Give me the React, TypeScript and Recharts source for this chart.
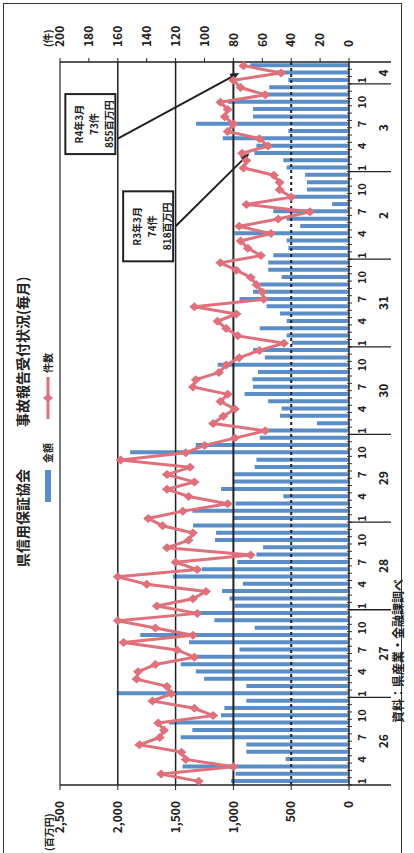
// Scanned report chart: monthly accident reports (amount bars + count line).
// The original page is printed sideways, so the chart is laid out landscape
// and the whole block is turned -90deg to fit the portrait page.
import * as React from "react";
import {
  ComposedChart,
  Bar,
  Line,
  XAxis,
  YAxis,
  ReferenceLine,
  ReferenceDot,
} from "recharts";

const FONT = "'Noto Sans CJK JP', 'Noto Sans', sans-serif";
const BAR_COLOR = "#5b8ec6";
const LINE_COLOR = "#e0707c";

// H26 .. H31, R2, R3, R4 (Jan-Mar)
const yearLabels = ["26", "27", "28", "29", "30", "31", "2", "3", "4"];
const monthsInYear = [12, 12, 12, 12, 12, 12, 12, 12, 3];
const monthTickLabels = [1, 4, 7, 10];

// 金額 (百万円)
const amounts = [
  1020, 982, 1440, 548, 888, 888, 1456, 1355, 1558, 1107, 1078, 888,
  2010, 888, 1253, 1325, 1456, 1355, 947, 1384, 1806, 816, 1165, 1340,
  990, 1034, 1098, 918, 1523, 1273, 967, 801, 743, 1159, 1150, 1349,
  1005, 1355, 982, 568, 1107, 1005, 1005, 816, 801, 1893, 1325, 772,
  714, 277, 597, 583, 699, 903, 830, 836, 787, 1136, 728, 830,
  495, 539, 772, 539, 597, 713, 947, 830, 772, 583, 699, 699,
  655, 524, 539, 990, 422, 539, 655, 146, 480, 364, 364, 379,
  539, 568, 818, 801, 1092, 524, 1323, 830, 830, 1049, 757, 690,
  525, 630, 855,
];

// 件数
const counts = [
  104, 130, 80, 113, 116, 145, 131, 128, 132, 94, 107, 136,
  123, 126, 147, 146, 134, 107, 119, 156, 108, 134, 160, 105,
  133, 108, 99, 140, 160, 105, 120, 68, 126, 111, 108, 129,
  139, 115, 84, 111, 126, 107, 126, 110, 158, 113, 100, 79,
  58, 94, 87, 79, 89, 84, 108, 106, 90, 85, 76, 62,
  45, 77, 85, 91, 78, 107, 59, 60, 64, 68, 78, 89,
  61, 70, 75, 54, 76, 49, 27, 71, 40, 48, 48, 52,
  73, 71, 74, 56, 62, 84, 80, 86, 84, 89, 58, 75,
  80, 47, 73,
];

const amountTicks = [0, 500, 1000, 1500, 2000, 2500];
const countTicks = [0, 20, 40, 60, 80, 100, 120, 140, 160, 180, 200];

type Row = {
  key: string;
  yr: string;
  m: number;
  months: number;
  amount: number;
  count: number;
};

const rows: Row[] = [];
{
  let n = 0;
  yearLabels.forEach((yr, yi) => {
    for (let m = 1; m <= monthsInYear[yi]; m++) {
      rows.push({
        key: `${yr}-${m}`,
        yr,
        m,
        months: monthsInYear[yi],
        amount: amounts[n],
        count: counts[n],
      });
      n++;
    }
  });
}

const notes = [
  { key: "3-3", box: { x: "2-5", y: 139 }, arrowFrom: { x: "2-5", y: 120 }, arrowTo: { x: "3-3", y: 69 }, lines: ["R3年3月", "74件", "818百万円"], w: 70 },
  { key: "4-3", box: { x: "3-7", y: 179 }, arrowFrom: { x: "3-5", y: 160 }, arrowTo: { x: "4-2", y: 76 }, lines: ["R4年3月", "73件", "855百万円"], w: 60 },
];

function MonthTick(props: any) {
  const { x, y, payload } = props;
  const row = rows.find((r) => r.key === payload.value);
  if (!row) return null;
  const half = payload.offset || 3.65;
  const isLast = row === rows[rows.length - 1];
  const txt = { fontFamily: FONT, fontWeight: 700, fill: "#222" };
  return (
    <g>
      <line x1={x - half} x2={x - half} y1={y - 2} y2={y + 3} stroke="#333" />
      {row.m === 1 && (
        <line x1={x - half} x2={x - half} y1={y} y2={y + 42} stroke="#222" strokeWidth={1.3} />
      )}
      {isLast && (
        <line x1={x + half} x2={x + half} y1={y} y2={y + 42} stroke="#222" strokeWidth={1.3} />
      )}
      {monthTickLabels.includes(row.m) && (
        <text x={x} y={y + 17} textAnchor="middle" fontSize={11} {...txt}>
          {row.m}
        </text>
      )}
      {row.m === 1 && (
        <text x={x - half + row.months * half} y={y + 39} textAnchor="middle" fontSize={12} {...txt}>
          {row.yr}
        </text>
      )}
    </g>
  );
}

function Diamond(props: any) {
  const { cx, cy } = props;
  if (cx == null || cy == null) return null;
  return (
    <polygon
      points={`${cx},${cy - 5} ${cx + 4.5},${cy} ${cx},${cy + 5} ${cx - 4.5},${cy}`}
      fill={LINE_COLOR}
    />
  );
}

function Arrow(props: any) {
  const { x1, y1, x2, y2 } = props;
  const a = Math.atan2(y2 - y1, x2 - x1);
  const len = 9;
  const w = 4;
  const bx = x2 - len * Math.cos(a);
  const by = y2 - len * Math.sin(a);
  const px = -Math.sin(a) * w;
  const py = Math.cos(a) * w;
  return (
    <g>
      <line x1={x1} y1={y1} x2={bx} y2={by} stroke="#222" strokeWidth={2} />
      <polygon points={`${x2},${y2} ${bx + px},${by + py} ${bx - px},${by - py}`} fill="#222" />
    </g>
  );
}

function NoteBox(lines: string[], w: number) {
  return (props: any) => {
    const { cx, cy } = props;
    if (cx == null || cy == null) return null;
    const h = 50;
    return (
      <g>
        <rect x={cx - w / 2} y={cy - h / 2} width={w} height={h} fill="#fff" stroke="#222" strokeWidth={2} />
        {lines.map((t, i) => (
          <text
            key={t}
            x={cx}
            y={cy - 12 + i * 15}
            textAnchor="middle"
            dominantBaseline="central"
            fontSize={10}
            fontWeight={700}
            fontFamily={FONT}
            fill="#222"
          >
            {t}
          </text>
        ))}
      </g>
    );
  };
}

function Chart() {
  const tickStyle = { fontSize: 12, fontWeight: 700, fill: "#222", fontFamily: FONT };
  return (
    <div style={{ position: "relative", width: 853, height: 414, background: "#fff", fontFamily: FONT }}>
      <div
        style={{
          position: "absolute",
          left: -5,
          top: 3,
          width: 855,
          height: 399,
          border: "1.5px solid #333",
          boxSizing: "border-box",
        }}
      />
      <div
        style={{
          position: "absolute",
          left: 286,
          top: 12,
          fontSize: 14,
          lineHeight: "20px",
          fontWeight: 700,
          color: "#222",
          whiteSpace: "pre",
        }}
      >
        {"県信用保証協会\u3000\u3000\u3000事故報告受付状況(毎月)"}
      </div>

      {/* legend */}
      <div style={{ position: "absolute", left: 351, top: 45, width: 32, height: 6, background: BAR_COLOR }} />
      <div style={{ position: "absolute", left: 390, top: 41, fontSize: 10, lineHeight: "14px", fontWeight: 700, color: "#222" }}>
        金額
      </div>
      <svg style={{ position: "absolute", left: 432, top: 41 }} width={46} height={14}>
        <line x1={2} x2={44} y1={7} y2={7} stroke={LINE_COLOR} strokeWidth={3} />
        <polygon points="23,2 27,7 23,12 19,7" fill={LINE_COLOR} />
      </svg>
      <div style={{ position: "absolute", left: 480, top: 41, fontSize: 10, lineHeight: "14px", fontWeight: 700, color: "#222" }}>
        件数
      </div>

      <div style={{ position: "absolute", left: 2, top: 42, fontSize: 10, lineHeight: "14px", fontWeight: 700, color: "#222" }}>
        (百万円)
      </div>
      <div style={{ position: "absolute", left: 806, top: 41, fontSize: 10, lineHeight: "14px", fontWeight: 700, color: "#222" }}>
        (件)
      </div>
      <div style={{ position: "absolute", left: 130, top: 390, fontSize: 12, lineHeight: "16px", fontWeight: 700, color: "#222" }}>
        資料：県産業・金融課調べ
      </div>

      <div style={{ position: "absolute", left: 0, top: 0 }}>
        <ComposedChart
          width={853}
          height={414}
          data={rows}
          margin={{ top: 60, right: 30, bottom: 0, left: 10 }}
          barCategoryGap={0}
        >
          <XAxis
            dataKey="key"
            interval={0}
            height={65}
            tickSize={0}
            tickMargin={0}
            tickLine={false}
            axisLine={{ stroke: "#222", strokeWidth: 1.5 }}
            tick={<MonthTick />}
          />
          <YAxis
            yAxisId="amt"
            orientation="left"
            width={58}
            domain={[0, 2500]}
            ticks={amountTicks}
            tickFormatter={(v: number) => v.toLocaleString("en-US")}
            tick={tickStyle}
            tickSize={5}
            tickMargin={11}
            axisLine={{ stroke: "#222", strokeWidth: 1.5 }}
            tickLine={{ stroke: "#222" }}
          />
          <YAxis
            yAxisId="cnt"
            orientation="right"
            width={32}
            domain={[0, 200]}
            ticks={countTicks}
            tick={tickStyle}
            tickSize={4}
            tickMargin={11}
            axisLine={{ stroke: "#222", strokeWidth: 1.5 }}
            tickLine={{ stroke: "#222" }}
          />
          <ReferenceLine yAxisId="amt" y={500} stroke="#222" strokeWidth={2} strokeDasharray="3 3" />
          <ReferenceLine yAxisId="amt" y={1000} stroke="#222" strokeWidth={2} />
          <ReferenceLine yAxisId="amt" y={1500} stroke="#222" strokeWidth={1.5} />
          <ReferenceLine yAxisId="amt" y={2000} stroke="#222" strokeWidth={1.5} />
          <ReferenceLine yAxisId="amt" y={2500} stroke="#222" strokeWidth={1.2} />
          <Bar
            yAxisId="amt"
            dataKey="amount"
            fill={BAR_COLOR}
            barSize={4}
            isAnimationActive={false}
          />
          <Line
            yAxisId="cnt"
            dataKey="count"
            type="linear"
            stroke={LINE_COLOR}
            strokeWidth={3}
            dot={<Diamond />}
            activeDot={false}
            isAnimationActive={false}
          />
          {notes.map((n) => (
            <ReferenceLine
              key={`a-${n.key}`}
              yAxisId="cnt"
              segment={[n.arrowFrom, n.arrowTo]}
              ifOverflow="visible"
              shape={Arrow}
            />
          ))}
          {notes.map((n) => (
            <ReferenceDot
              key={`b-${n.key}`}
              yAxisId="cnt"
              x={n.box.x}
              y={n.box.y}
              r={1}
              ifOverflow="visible"
              shape={NoteBox(n.lines, n.w)}
            />
          ))}
        </ComposedChart>
      </div>
    </div>
  );
}

export default function App() {
  return (
    <div
      style={{
        position: "absolute",
        left: 0,
        top: 0,
        width: 414,
        height: 853,
        overflow: "hidden",
        background: "#fff",
      }}
    >
      <div
        style={{
          position: "absolute",
          left: 0,
          top: 0,
          width: 853,
          height: 414,
          transformOrigin: "0 0",
          transform: "translate(0px, 853px) rotate(-90deg)",
        }}
      >
        <Chart />
      </div>
    </div>
  );
}
